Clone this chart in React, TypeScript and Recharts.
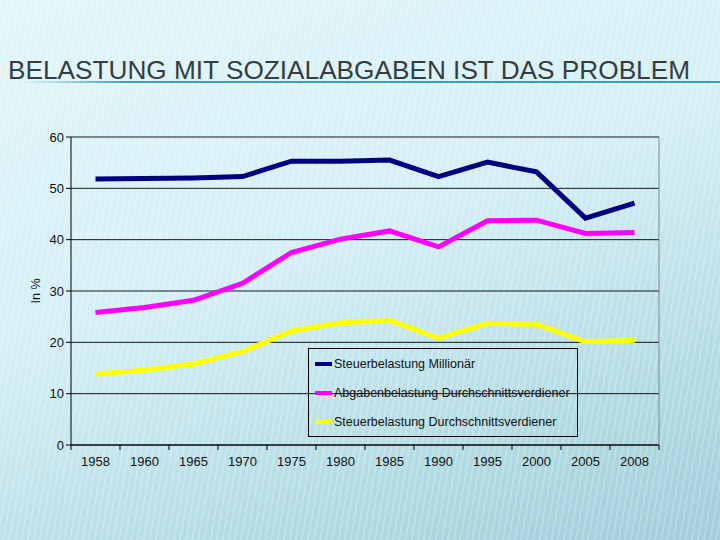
import { LineChart, Line, XAxis, YAxis, CartesianGrid, Legend } from 'recharts';

const years = ['1958', '1960', '1965', '1970', '1975', '1980', '1985', '1990', '1995', '2000', '2005', '2008'];
const millionaer = [51.8, 51.9, 52.0, 52.3, 55.3, 55.3, 55.5, 52.3, 55.1, 53.2, 44.2, 47.1];
const abgaben = [25.8, 26.8, 28.2, 31.5, 37.5, 40.1, 41.7, 38.6, 43.7, 43.8, 41.2, 41.4];
const steuerDurchschnitt = [13.8, 14.6, 15.8, 18.2, 22.2, 23.8, 24.3, 20.8, 23.7, 23.5, 20.1, 20.4];
const yTicks = [0, 10, 20, 30, 40, 50, 60];

const seriesInfo = [
  { key: 'millionaer', name: 'Steuerbelastung Millionär', color: '#000080' },
  { key: 'abgaben', name: 'Abgabenbelastung Durchschnittsverdiener', color: '#ff00ff' },
  { key: 'steuer', name: 'Steuerbelastung Durchschnittsverdiener', color: '#ffff00' },
];

const data = years.map((year, i) => ({
  year,
  millionaer: millionaer[i],
  abgaben: abgaben[i],
  steuer: steuerDurchschnitt[i],
}));

const font = '"Liberation Sans", Arial, sans-serif';

// year label plus the tick marks between the categories
function YearTick(props: any) {
  const { x, y, payload, index, width } = props;
  const half = width / years.length / 2;
  const top = y - 8;
  return (
    <g>
      <line x1={x - half} x2={x - half} y1={top} y2={top + 5} stroke="#000" />
      {index === years.length - 1 && <line x1={x + half} x2={x + half} y1={top} y2={top + 5} stroke="#000" />}
      <text x={x} y={y + 13} textAnchor="middle" style={{ fontFamily: font, fontSize: 13, fill: '#111' }}>
        {payload.value}
      </text>
    </g>
  );
}

function LegendBox() {
  return (
    <div
      style={{
        border: '1px solid #000',
        padding: '0 6px 0 6px',
        fontFamily: font,
        fontSize: 12.5,
        color: '#111',
        width: 256,
      }}
    >
      {seriesInfo.map((s) => (
        <div key={s.key} style={{ display: 'flex', alignItems: 'center', height: 29, whiteSpace: 'nowrap' }}>
          <span style={{ display: 'inline-block', width: 17, height: 4, background: s.color, marginRight: 2, flexShrink: 0 }} />
          <span>{s.name}</span>
        </div>
      ))}
    </div>
  );
}

export default function App() {
  return (
    <div
      style={{
        position: 'fixed',
        left: 0,
        top: 0,
        width: 720,
        height: 540,
        overflow: 'hidden',
        background:
          'repeating-linear-gradient(100deg, rgba(255,255,255,0.2) 0px, rgba(255,255,255,0.2) 2px, rgba(255,255,255,0) 2px, rgba(255,255,255,0) 6px), linear-gradient(160deg, #e2f6fb 0%, #d4eff5 45%, #b0d9e2 80%, #a3cdd8 100%)',
      }}
    >
      <svg width={720} height={100} style={{ position: 'absolute', left: 0, top: 0 }}>
        <defs>
          <linearGradient id="rule" x1="0" x2="1" y1="0" y2="0">
            <stop offset="0" stopColor="#4aa9c0" stopOpacity={0} />
            <stop offset="0.15" stopColor="#3f9fb8" stopOpacity={1} />
            <stop offset="1" stopColor="#3a9cb5" stopOpacity={1} />
          </linearGradient>
        </defs>
        <text
          x={8}
          y={79}
          textLength={682}
          lengthAdjust="spacingAndGlyphs"
          style={{ fontFamily: font, fontSize: 25, fill: '#353d41' }}
        >
          BELASTUNG MIT SOZIALABGABEN IST DAS PROBLEM
        </text>
        <rect x={20} y={81} width={700} height={2} fill="url(#rule)" />
      </svg>
      <div style={{ position: 'absolute', left: 0, top: 0 }}>
        <LineChart width={720} height={540} data={data} margin={{ top: 137, right: 60, bottom: 65, left: 41 }}>
          <CartesianGrid vertical={false} horizontal stroke="#000" strokeOpacity={0.9} />
          <XAxis
            dataKey="year"
            height={30}
            stroke="#000"
            tickLine={false}
            padding={{ left: 24.5, right: 24.5 }}
            tick={<YearTick />}
            interval={0}
          />
          <YAxis
            domain={[0, 60]}
            ticks={yTicks}
            width={30}
            tickSize={5}
            stroke="#000"
            tick={{ fontFamily: font, fontSize: 13, fill: '#111' }}
            label={{ value: 'In %', angle: -90, position: 'insideLeft', offset: -5, style: { fontFamily: font, fontSize: 12.5, fill: '#111', textAnchor: 'middle' } }}
          />
          <YAxis yAxisId="edge" orientation="right" width={1} domain={[0, 60]} tick={false} tickLine={false} stroke="#7a8a8e" />
          <Legend
            layout="horizontal"
            verticalAlign="middle"
            align="center"
            wrapperStyle={{ left: 308, top: 348, width: 'auto' }}
            content={() => <LegendBox />}
          />
          {seriesInfo.map((s) => (
            <Line
              key={s.key}
              type="linear"
              dataKey={s.key}
              name={s.name}
              stroke={s.color}
              strokeWidth={5}
              dot={false}
              isAnimationActive={false}
            />
          ))}
        </LineChart>
      </div>
    </div>
  );
}
